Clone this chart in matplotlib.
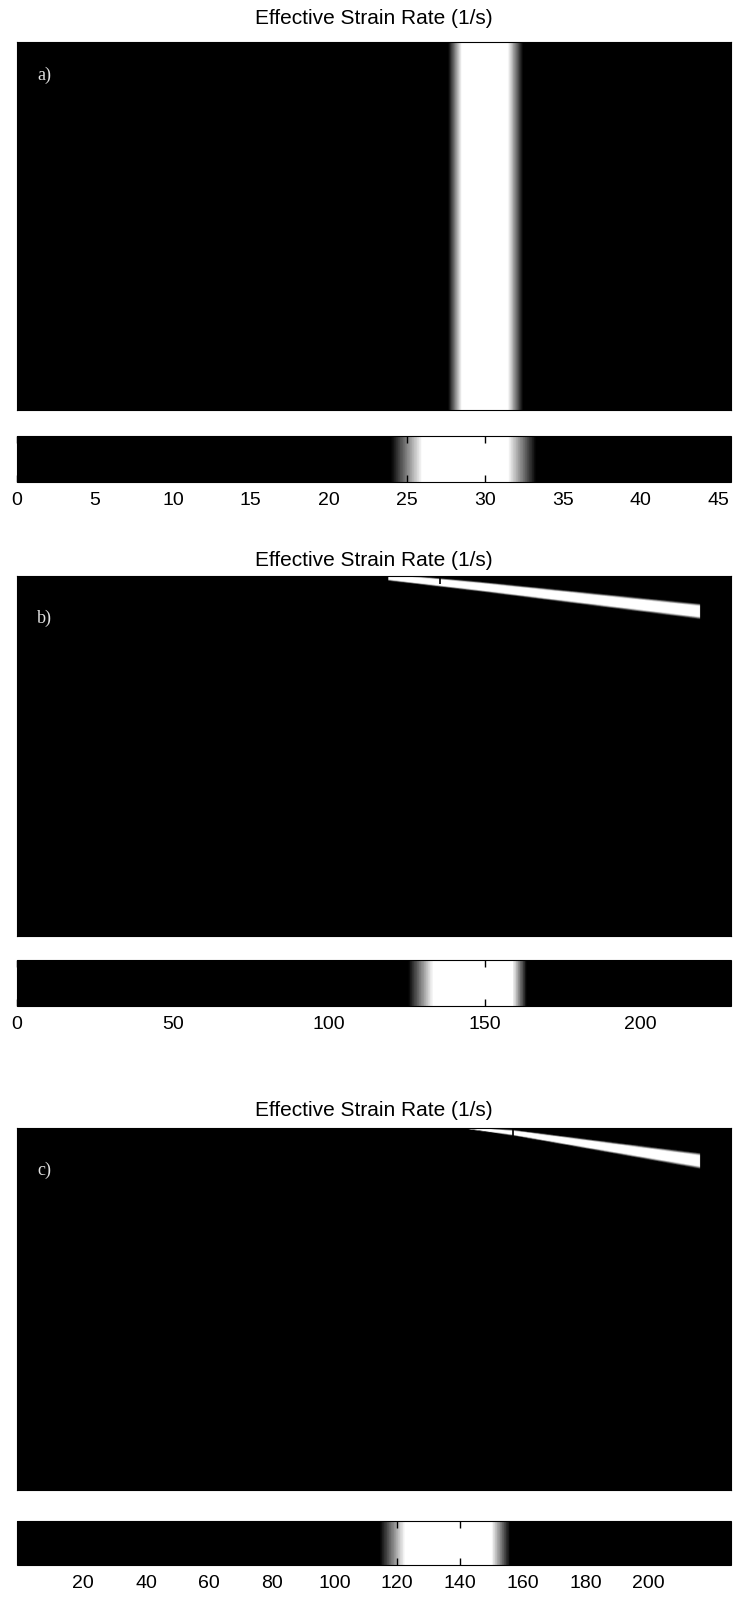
import numpy as np
import matplotlib
matplotlib.use("Agg")
import matplotlib.pyplot as plt
from matplotlib.colors import LinearSegmentedColormap, Normalize

plt.rcParams["font.family"] = ["Liberation Sans", "DejaVu Sans"]

TITLE = "Effective Strain Rate (1/s)"
panel_labels = ["a)", "b)", "c)"]

# colour-bar ranges (1/s)
cbar_lims = [(0.0, 45.8), (0.0, 229.0), (-1.1, 226.3)]
cbar_ticks = [
    [0, 5, 10, 15, 20, 25, 30, 35, 40, 45],
    [0, 50, 100, 150, 200],
    [20, 40, 60, 80, 100, 120, 140, 160, 180, 200],
]
# grey ramp start, white start, white end, grey ramp end (1/s)
bright_bands = [
    [24.0, 26.0, 31.5, 33.3],
    [125.5, 133.5, 159.0, 163.5],
    [114.5, 122.5, 150.0, 156.0],
]

# a) vertical band: cross-section of strain rate along the specimen width
a_pos = [0.0, 0.604, 0.623, 0.688, 0.709, 1.0]
a_val = [0.0, 24.0, 26.0, 31.5, 33.3, 45.0]

# b), c) inclined band near the top edge: upper / lower edges (u across, v down)
b_u = [0.52, 0.648, 0.957]
b_upper = [-0.005, 0.017, 0.078]
b_lower = [0.015, 0.045, 0.122]
c_u = [0.625, 0.695, 0.957]
c_upper = [-0.004, 0.004, 0.068]
c_lower = [0.000, 0.020, 0.112]
band_end_u = [0.957, 0.957]
# strain rate across the inclined band, from centre line (0) to edge (1) and beyond
cross_d = [0.0, 0.65, 1.0, 1.4]
b_cross = [150.0, 134.0, 125.5, 40.0]
c_cross = [140.0, 123.0, 115.0, 35.0]

# top-edge tick marks of the specimen axes (fraction of width)
field_ticks = [[], [0.592], [0.695]]

# layout in pixels (figure 735 x 1599)
W, H = 735.0, 1599.0
field_px = [(42, 410), (576, 936), (1128, 1490)]
cbar_px = [(436, 482), (960, 1006), (1521, 1565)]
title_y = [19, 560, 1111]
label_xy = [(37, 75), (37, 618), (37, 1170)]
x0, x1 = 17, 731


def band_cmap(lims, band):
    lo, hi = lims
    p = [(b - lo) / (hi - lo) for b in band]
    return LinearSegmentedColormap.from_list(
        "band",
        [(0.0, "black"), (p[0], "black"), (p[1], "white"),
         (p[2], "white"), (p[3], "black"), (1.0, "black")],
        N=1024,
    )


nu, nv = 900, 450
uu, vv = np.meshgrid(np.linspace(0, 1, nu), np.linspace(0, 1, nv))


def inclined_field(u_pts, upper, lower, cross):
    top = np.interp(uu, u_pts, upper)
    bot = np.interp(uu, u_pts, lower)
    mid = 0.5 * (top + bot)
    half = np.maximum(0.5 * (bot - top), 1e-4)
    d = np.abs(vv - mid) / half
    f = np.interp(d, cross_d, cross, right=0.0)
    f[uu > band_end_u[0]] = 0.0
    f[uu < u_pts[0]] = 0.0
    return f


fields = [
    np.interp(uu, a_pos, a_val),
    inclined_field(b_u, b_upper, b_lower, b_cross),
    inclined_field(c_u, c_upper, c_lower, c_cross),
]

fig = plt.figure(figsize=(W / 100, H / 100), dpi=100)
fig.patch.set_facecolor("white")

for i in range(3):
    cmap = band_cmap(cbar_lims[i], bright_bands[i])
    norm = Normalize(*cbar_lims[i])
    ft, fb = field_px[i]
    ax = fig.add_axes([x0 / W, 1 - fb / H, (x1 - x0) / W, (fb - ft) / H])
    im = ax.imshow(fields[i], cmap=cmap, norm=norm, extent=[0, 1, 1, 0],
                   aspect="auto", interpolation="bilinear")
    ax.set_xticks(field_ticks[i])
    ax.set_yticks([])
    ax.tick_params(axis="x", direction="in", length=6, width=1.2, color="black",
                   top=True, bottom=False, labelbottom=False)
    for s in ax.spines.values():
        s.set_color("black")
    ax.text((label_xy[i][0] - x0) / (x1 - x0),
            1 - (label_xy[i][1] - ft) / (fb - ft),
            panel_labels[i], transform=ax.transAxes, color="#e0e0e0",
            fontsize=13, family=["Liberation Serif", "DejaVu Serif"],
            ha="left", va="center")
    fig.text((x0 + x1) / 2 / W, 1 - title_y[i] / H, TITLE, ha="center",
             va="center", fontsize=15)

    ct, cb = cbar_px[i]
    cax = fig.add_axes([x0 / W, 1 - cb / H, (x1 - x0) / W, (cb - ct) / H])
    bar = fig.colorbar(im, cax=cax, orientation="horizontal")
    bar.set_ticks(cbar_ticks[i])
    bar.outline.set_edgecolor("black")
    cax.tick_params(axis="x", direction="in", length=5, width=1, color="black",
                    top=True, bottom=True, labelsize=14, pad=7)

fig.savefig("out.png", dpi=100, facecolor="white")
